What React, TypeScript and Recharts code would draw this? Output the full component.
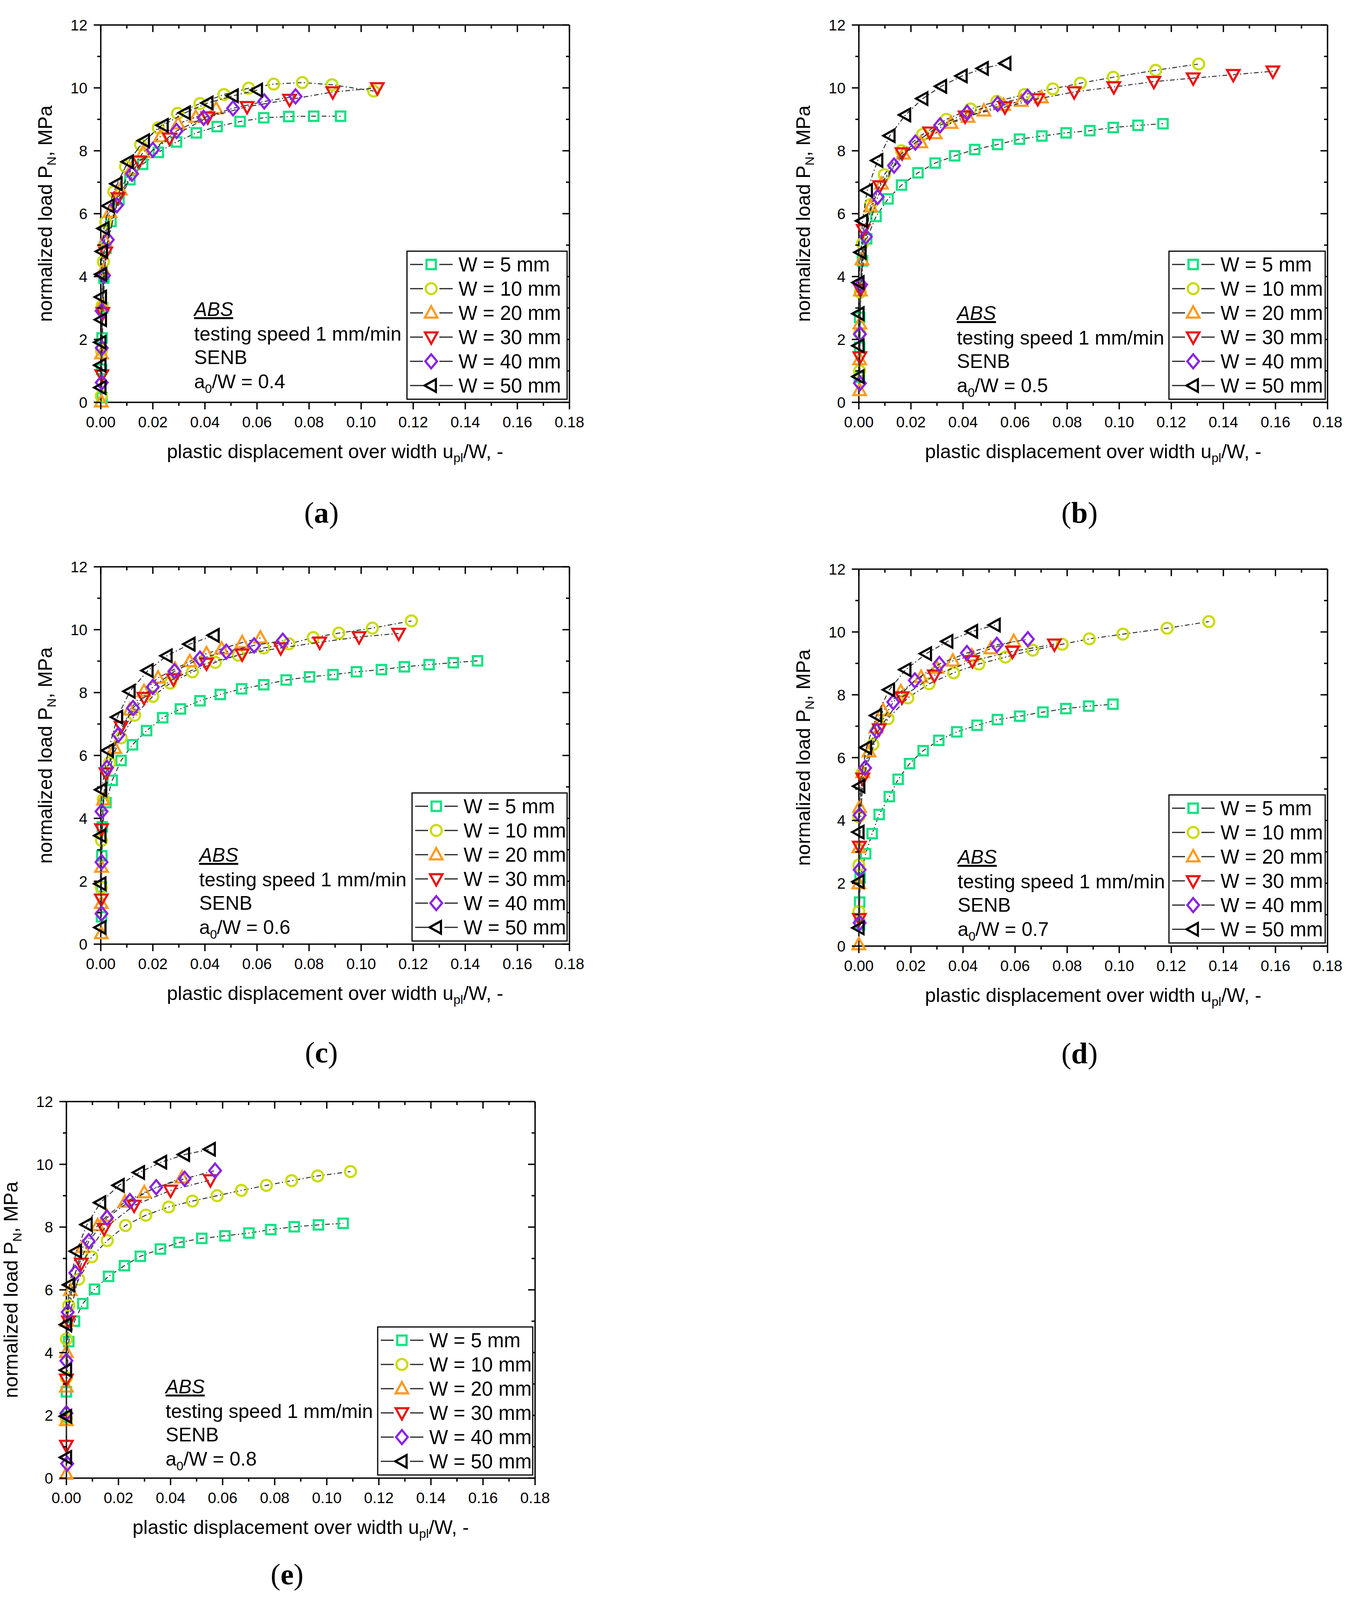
import React from "react";
import { ScatterChart, Scatter, XAxis, YAxis } from "recharts";

type Pt = [number, number];

const X_TICKS = [0, 0.01, 0.02, 0.03, 0.04, 0.05, 0.06, 0.07, 0.08, 0.09, 0.1, 0.11, 0.12, 0.13, 0.14, 0.15, 0.16, 0.17, 0.18];
const Y_TICKS = [0, 1, 2, 3, 4, 5, 6, 7, 8, 9, 10, 11, 12];

const SERIES_NAMES = ["W = 5 mm", "W = 10 mm", "W = 20 mm", "W = 30 mm", "W = 40 mm", "W = 50 mm"];
const COLORS = ["#12e283", "#c9dc00", "#ff9a1e", "#ec1212", "#8a22e8", "#000000"];
const SHAPES = ["square", "circle", "up", "down", "diamond", "left"];
const RATIOS = ["0.4", "0.5", "0.6", "0.7", "0.8"];
const LETTERS = ["a", "b", "c", "d", "e"];

// (a) a0/W = 0.4
const A_W5: Pt[] = [[0.0005, 0.15], [0.0003, 1.05], [0.0005, 2.05], [0.0008, 3.0], [0.0012, 3.95], [0.002, 4.9], [0.0039, 5.75], [0.007, 6.45], [0.0112, 7.08], [0.0161, 7.57], [0.0221, 7.95], [0.0291, 8.28], [0.0367, 8.57], [0.0447, 8.77], [0.0535, 8.93], [0.0626, 9.05], [0.0722, 9.09], [0.0818, 9.1], [0.0921, 9.1]];
const A_W10: Pt[] = [[0.0002, 0.2], [0.0003, 1.65], [0.0005, 3.07], [0.001, 4.47], [0.0019, 5.73], [0.005, 6.7], [0.0095, 7.5], [0.0153, 8.19], [0.0221, 8.73], [0.0295, 9.19], [0.0381, 9.5], [0.0473, 9.79], [0.0568, 9.99], [0.0664, 10.12], [0.0774, 10.17], [0.0888, 10.1], [0.1048, 9.9]];
const A_W20: Pt[] = [[0.0002, 0.02], [0.0003, 1.55], [0.0005, 3.07], [0.001, 4.2], [0.0015, 5.15], [0.0035, 6.05], [0.0075, 6.76], [0.0118, 7.42], [0.0163, 7.95], [0.0229, 8.45], [0.0297, 8.86], [0.0365, 9.07], [0.0443, 9.34]];
const A_W30: Pt[] = [[0.0004, 0.87], [0.0008, 2.85], [0.0019, 4.77], [0.0066, 6.5], [0.0147, 7.67], [0.0264, 8.4], [0.0411, 9.07], [0.0562, 9.4], [0.0725, 9.63], [0.0891, 9.87], [0.1062, 10.0]];
const A_W40: Pt[] = [[0.0004, 0.63], [0.0004, 1.73], [0.0004, 2.9], [0.0012, 4.03], [0.0027, 5.17], [0.0062, 6.27], [0.012, 7.27], [0.02, 8.03], [0.0291, 8.63], [0.0395, 9.05], [0.0508, 9.35], [0.0628, 9.57], [0.0748, 9.73]];
const A_W50: Pt[] = [[0, 0.47], [0, 1.18], [0, 1.91], [0.0002, 2.63], [0.0002, 3.35], [0.0003, 4.07], [0.0006, 4.8], [0.0012, 5.53], [0.0031, 6.25], [0.0062, 6.95], [0.0105, 7.65], [0.0167, 8.32], [0.0239, 8.81], [0.0324, 9.21], [0.0411, 9.52], [0.0508, 9.75], [0.0601, 9.93]];

// (b) a0/W = 0.5
const B_W5: Pt[] = [[0.0002, 0.8], [0.0003, 1.75], [0.0003, 2.7], [0.0014, 4.5], [0.003, 5.2], [0.0066, 5.91], [0.0112, 6.47], [0.0164, 6.91], [0.0227, 7.3], [0.0293, 7.61], [0.0368, 7.84], [0.0445, 8.04], [0.0533, 8.2], [0.0617, 8.37], [0.0703, 8.47], [0.0796, 8.57], [0.0887, 8.64], [0.0977, 8.74], [0.1072, 8.81], [0.1168, 8.86]];
const B_W10: Pt[] = [[0.0003, 1.0], [0.0003, 2.2], [0.0005, 3.5], [0.0014, 5.05], [0.0045, 6.29], [0.0098, 7.24], [0.0164, 8.0], [0.0245, 8.52], [0.0336, 9.0], [0.0429, 9.33], [0.053, 9.57], [0.0636, 9.79], [0.0745, 9.97], [0.0851, 10.15], [0.0977, 10.34], [0.114, 10.56], [0.1305, 10.76]];
const B_W20: Pt[] = [[0.0003, 0.38], [0.0003, 1.36], [0.0004, 2.5], [0.0006, 3.55], [0.0012, 4.54], [0.0045, 6.22], [0.0087, 6.95], [0.0172, 7.9], [0.0238, 8.26], [0.0293, 8.55], [0.0354, 8.88], [0.0419, 9.07], [0.048, 9.27], [0.0556, 9.45], [0.0624, 9.58], [0.0701, 9.69]];
const B_W30: Pt[] = [[0.0004, 1.44], [0.0006, 3.59], [0.0017, 5.49], [0.008, 6.88], [0.0166, 7.93], [0.0272, 8.59], [0.0408, 9.1], [0.0561, 9.39], [0.0687, 9.65], [0.0827, 9.87], [0.0979, 10.03], [0.1133, 10.2], [0.1284, 10.31], [0.1438, 10.42], [0.159, 10.53]];
const B_W40: Pt[] = [[0.0004, 0.61], [0.0004, 2.17], [0.0008, 3.74], [0.0027, 5.27], [0.0072, 6.53], [0.0135, 7.53], [0.0217, 8.26], [0.0312, 8.81], [0.0416, 9.21], [0.0533, 9.49], [0.0648, 9.72]];
const B_W50: Pt[] = [[0, 0.82], [0, 1.8], [0, 2.82], [0, 3.81], [0.0008, 4.77], [0.0014, 5.77], [0.0032, 6.74], [0.0072, 7.69], [0.0119, 8.48], [0.0179, 9.14], [0.0245, 9.66], [0.0317, 10.05], [0.0396, 10.38], [0.0477, 10.62], [0.0564, 10.78]];

// (c) a0/W = 0.6
const C_W5: Pt[] = [[0.0003, 0.87], [0.0003, 1.82], [0.0004, 2.81], [0.0006, 3.73], [0.002, 4.5], [0.0044, 5.21], [0.0078, 5.84], [0.0122, 6.34], [0.0176, 6.79], [0.0238, 7.2], [0.0306, 7.48], [0.0381, 7.74], [0.0459, 7.94], [0.0541, 8.12], [0.0626, 8.25], [0.0712, 8.4], [0.0802, 8.5], [0.0892, 8.57], [0.0982, 8.66], [0.1078, 8.73], [0.1166, 8.82], [0.1261, 8.89], [0.1354, 8.95], [0.1447, 9.01]];
const C_W10: Pt[] = [[0.0002, 1.8], [0.0003, 3.3], [0.001, 4.6], [0.0034, 5.77], [0.0078, 6.56], [0.013, 7.28], [0.02, 7.88], [0.0267, 8.3], [0.0352, 8.66], [0.044, 8.96], [0.0528, 9.19], [0.0626, 9.42], [0.0723, 9.55], [0.0816, 9.75], [0.0914, 9.89], [0.1043, 10.05], [0.1193, 10.28]];
const C_W20: Pt[] = [[0.0002, 0.34], [0.0002, 1.3], [0.0003, 2.45], [0.001, 4.59], [0.0054, 6.23], [0.0112, 7.45], [0.0166, 8.04], [0.022, 8.47], [0.0285, 8.75], [0.0342, 8.99], [0.0406, 9.24], [0.0464, 9.39], [0.0543, 9.59], [0.0613, 9.74]];
const C_W30: Pt[] = [[0.0002, 1.43], [0.0003, 3.66], [0.002, 5.44], [0.0078, 6.92], [0.0166, 7.84], [0.0279, 8.43], [0.0406, 8.93], [0.0543, 9.22], [0.0691, 9.42], [0.0841, 9.6], [0.0992, 9.77], [0.1144, 9.88]];
const C_W40: Pt[] = [[0.0003, 0.97], [0.0003, 2.61], [0.0003, 4.22], [0.0024, 5.61], [0.0068, 6.66], [0.0124, 7.51], [0.02, 8.18], [0.0283, 8.68], [0.0381, 9.08], [0.0482, 9.3], [0.0589, 9.5], [0.0699, 9.65]];
const C_W50: Pt[] = [[0, 0.53], [0, 1.92], [0, 3.45], [0.0003, 4.91], [0.0029, 6.16], [0.0064, 7.22], [0.0112, 8.04], [0.0181, 8.7], [0.0254, 9.17], [0.0342, 9.54], [0.0435, 9.82]];

// (d) a0/W = 0.7
const D_W5: Pt[] = [[0.0003, 0.68], [0.0003, 1.4], [0.0005, 2.17], [0.0026, 2.94], [0.0051, 3.58], [0.0078, 4.19], [0.0117, 4.76], [0.0151, 5.31], [0.0195, 5.81], [0.0247, 6.22], [0.0307, 6.55], [0.0376, 6.82], [0.0454, 7.03], [0.0532, 7.21], [0.0618, 7.32], [0.0707, 7.45], [0.0795, 7.56], [0.0883, 7.64], [0.0976, 7.7]];
const D_W10: Pt[] = [[0, 1.1], [0, 2.58], [0, 4.12], [0.0012, 5.5], [0.0054, 6.42], [0.0112, 7.24], [0.0188, 7.9], [0.027, 8.35], [0.0364, 8.7], [0.0461, 8.98], [0.0563, 9.2], [0.0668, 9.42], [0.0781, 9.61], [0.0885, 9.78], [0.1014, 9.93], [0.1184, 10.12], [0.1344, 10.33]];
const D_W20: Pt[] = [[0, 0.05], [0, 1.99], [0, 3.14], [0.0003, 4.42], [0.0015, 5.53], [0.0039, 6.19], [0.0065, 6.95], [0.0093, 7.5], [0.0161, 8.1], [0.0239, 8.56], [0.03, 8.85], [0.0361, 9.08], [0.0434, 9.24], [0.0507, 9.47], [0.0595, 9.7]];
const D_W30: Pt[] = [[0.0002, 0.87], [0.0002, 3.17], [0.0015, 5.34], [0.0078, 6.91], [0.0166, 7.93], [0.029, 8.62], [0.0436, 9.08], [0.059, 9.38], [0.0751, 9.61]];
const D_W40: Pt[] = [[0.0003, 0.74], [0.0003, 2.43], [0.0003, 4.17], [0.0024, 5.67], [0.0068, 6.85], [0.0132, 7.77], [0.0215, 8.46], [0.0309, 8.98], [0.0415, 9.33], [0.053, 9.59], [0.0649, 9.77]];
const D_W50: Pt[] = [[0, 0.58], [0, 2.05], [0, 3.63], [0.0003, 5.09], [0.0029, 6.32], [0.0068, 7.34], [0.0117, 8.16], [0.018, 8.8], [0.0259, 9.31], [0.0341, 9.7], [0.0436, 10.02], [0.0523, 10.22]];

// (e) a0/W = 0.8
const E_W5: Pt[] = [[0, 1.95], [0, 2.75], [0.0009, 4.35], [0.0031, 5.0], [0.0063, 5.56], [0.0108, 6.02], [0.0162, 6.43], [0.0223, 6.77], [0.0284, 7.07], [0.0361, 7.3], [0.0433, 7.51], [0.052, 7.64], [0.0609, 7.72], [0.0701, 7.81], [0.0785, 7.92], [0.0875, 8.01], [0.0968, 8.07], [0.1063, 8.12]];
const E_W10: Pt[] = [[0, 1.9], [0, 3.2], [0, 4.43], [0.0009, 5.5], [0.0047, 6.34], [0.0097, 7.05], [0.0157, 7.57], [0.0227, 8.05], [0.0305, 8.38], [0.0393, 8.64], [0.0484, 8.83], [0.0579, 9.0], [0.0672, 9.17], [0.0768, 9.33], [0.0865, 9.48], [0.0965, 9.63], [0.1091, 9.77]];
const E_W20: Pt[] = [[0, 0.13], [0, 1.84], [0, 2.91], [0, 4.01], [0.0003, 5.0], [0.0015, 5.98], [0.0063, 7.36], [0.012, 8.05], [0.0155, 8.35], [0.0225, 8.8], [0.0299, 9.1], [0.0444, 9.57]];
const E_W30: Pt[] = [[0, 1.04], [0, 3.15], [0.0008, 5.0], [0.0057, 6.84], [0.0145, 7.95], [0.026, 8.69], [0.04, 9.17], [0.0553, 9.5]];
const E_W40: Pt[] = [[0.0003, 0.46], [0, 2.07], [0, 3.74], [0.0005, 5.29], [0.0034, 6.54], [0.0086, 7.55], [0.0156, 8.3], [0.0244, 8.83], [0.0345, 9.27], [0.0454, 9.54], [0.0571, 9.8]];
const E_W50: Pt[] = [[0, 0.66], [0, 1.97], [0, 3.44], [0, 4.89], [0.0012, 6.16], [0.0038, 7.23], [0.0079, 8.08], [0.0131, 8.78], [0.0202, 9.33], [0.028, 9.74], [0.0365, 10.07], [0.0453, 10.31], [0.0552, 10.48]];

const PANEL_DATA: Pt[][][] = [
  [A_W5, A_W10, A_W20, A_W30, A_W40, A_W50],
  [B_W5, B_W10, B_W20, B_W30, B_W40, B_W50],
  [C_W5, C_W10, C_W20, C_W30, C_W40, C_W50],
  [D_W5, D_W10, D_W20, D_W30, D_W40, D_W50],
  [E_W5, E_W10, E_W20, E_W30, E_W40, E_W50],
];

// plot boxes in page pixels
type Geo = { l: number; t: number; b: number; legW: number; annX: number; annDy: number; capDy: number };
const GEO: Geo[] = [
  { l: 258, t: 64, b: 1030, legW: 410, annX: 239, annDy: -10, capDy: 308 },
  { l: 2199, t: 64, b: 1030, legW: 400, annX: 251, annDy: 0, capDy: 308 },
  { l: 258, t: 1451, b: 2417, legW: 397, annX: 252, annDy: 0, capDy: 303 },
  { l: 2199, t: 1457, b: 2422, legW: 400, annX: 253, annDy: 0, capDy: 300 },
  { l: 170, t: 2820, b: 3784, legW: 397, annX: 254, annDy: -6, capDy: 272 },
];

const PW = 1200;
const YW = 180;
const XH = 100;
const TH = 10;
const RW = 10;
const MT = 10;
const MR = 70;
const FONT = "'Liberation Sans', Arial, sans-serif";
const AX = 3.5;

function Marker({ cx, cy, shape, color }: { cx: number; cy: number; shape: string; color: string }) {
  const p = { fill: "none", stroke: color, strokeWidth: 5.5, strokeLinejoin: "miter" as const };
  if (cx == null || cy == null) return null;
  switch (shape) {
    case "square":
      return <rect x={cx - 12} y={cy - 12} width={24} height={24} {...p} />;
    case "circle":
      return <circle cx={cx} cy={cy} r={14} {...p} />;
    case "up":
      return <polygon points={`${cx},${cy - 17} ${cx + 16},${cy + 12} ${cx - 16},${cy + 12}`} {...p} />;
    case "down":
      return <polygon points={`${cx - 16},${cy - 12} ${cx + 16},${cy - 12} ${cx},${cy + 17}`} {...p} />;
    case "diamond":
      return <polygon points={`${cx},${cy - 18} ${cx + 15},${cy} ${cx},${cy + 18} ${cx - 15},${cy}`} {...p} />;
    default:
      return <polygon points={`${cx - 17},${cy} ${cx + 12},${cy - 16} ${cx + 12},${cy + 16}`} {...p} />;
  }
}

const isMajorX = (v: number) => Math.round(v * 100) % 2 === 0;
const isMajorY = (v: number) => Math.round(v) % 2 === 0;

function BottomTick(props: any) {
  const { x, y, payload } = props;
  const major = isMajorX(payload.value);
  return (
    <g>
      <line x1={x} x2={x} y1={y} y2={y + (major ? 18 : 9)} stroke="#000" strokeWidth={AX} />
      {major && (
        <text x={x} y={y + 64} textAnchor="middle" fontSize={39} fontFamily={FONT} fill="#000">
          {payload.value.toFixed(2)}
        </text>
      )}
    </g>
  );
}

function TopTick(props: any) {
  const { x, y, payload } = props;
  const major = isMajorX(payload.value);
  return <line x1={x} x2={x} y1={y} y2={y + (major ? 18 : 9)} stroke="#000" strokeWidth={AX} />;
}

function LeftTick(props: any) {
  const { x, y, payload } = props;
  const major = isMajorY(payload.value);
  return (
    <g>
      <line x1={x} x2={x - (major ? 18 : 9)} y1={y} y2={y} stroke="#000" strokeWidth={AX} />
      {major && (
        <text x={x - 34} y={y + 14} textAnchor="end" fontSize={39} fontFamily={FONT} fill="#000">
          {payload.value}
        </text>
      )}
    </g>
  );
}

function RightTick(props: any) {
  const { x, y, payload } = props;
  const major = isMajorY(payload.value);
  return <line x1={x} x2={x - (major ? 18 : 9)} y1={y} y2={y} stroke="#000" strokeWidth={AX} />;
}

function Panel({ geo, series }: { geo: Geo; series: Pt[][] }) {
  const h = geo.b - geo.t;
  const axisLine = { stroke: "#000", strokeWidth: AX };
  return (
    <div style={{ position: "absolute", left: geo.l - YW, top: geo.t - MT - TH }}>
      <ScatterChart
        width={YW + PW + RW + MR}
        height={MT + TH + h + XH}
        margin={{ top: MT, right: MR, bottom: 0, left: 0 }}
      >
        <XAxis
          xAxisId="b"
          type="number"
          dataKey="x"
          domain={[0, 0.18]}
          ticks={X_TICKS}
          interval={0}
          height={XH}
          tickSize={0}
          tickMargin={0}
          tickLine={false}
          axisLine={axisLine}
          tick={(p: any) => <BottomTick {...p} />}
        />
        <XAxis
          xAxisId="t"
          orientation="top"
          type="number"
          dataKey="x"
          domain={[0, 0.18]}
          allowDataOverflow
          ticks={X_TICKS}
          interval={0}
          height={TH}
          tickSize={0}
          tickMargin={0}
          tickLine={false}
          axisLine={axisLine}
          tick={(p: any) => <TopTick {...p} />}
        />
        <YAxis
          yAxisId="l"
          type="number"
          dataKey="y"
          domain={[0, 12]}
          ticks={Y_TICKS}
          interval={0}
          width={YW}
          tickSize={0}
          tickMargin={0}
          tickLine={false}
          axisLine={axisLine}
          tick={(p: any) => <LeftTick {...p} />}
        />
        <YAxis
          yAxisId="r"
          orientation="right"
          type="number"
          dataKey="y"
          domain={[0, 12]}
          allowDataOverflow
          ticks={Y_TICKS}
          interval={0}
          width={RW}
          tickSize={0}
          tickMargin={0}
          tickLine={false}
          axisLine={axisLine}
          tick={(p: any) => <RightTick {...p} />}
        />
        {series.map((pts, i) => (
          <Scatter
            key={SERIES_NAMES[i]}
            name={SERIES_NAMES[i]}
            xAxisId="b"
            yAxisId="l"
            data={pts.map(([x, y]) => ({ x, y }))}
            line={{ stroke: "#333", strokeWidth: 2.5, strokeDasharray: "12 6 3 6" }}
            lineType="joint"
            shape={(p: any) => <Marker cx={p.cx} cy={p.cy} shape={SHAPES[i]} color={COLORS[i]} />}
            isAnimationActive={false}
          />
        ))}
      </ScatterChart>
    </div>
  );
}

function PanelText({ geo, idx }: { geo: Geo; idx: number }) {
  const r = geo.l + PW;
  const midY = (geo.t + geo.b) / 2;
  const legTop = geo.b - 8 - 379;
  const legLeft = r - 6 - geo.legW;
  const ann = [-228, -165, -105, -43].map((d) => geo.b + d + geo.annDy + 17);
  const ax = geo.l + geo.annX;
  return (
    <g fontFamily={FONT} fill="#000">
      <text transform={`translate(${geo.l - 125},${midY}) rotate(-90)`} textAnchor="middle" fontSize={50}>
        normalized load P<tspan fontSize={32} dy={10}>N</tspan>
        <tspan dy={-10}>, MPa</tspan>
      </text>
      <text x={geo.l + PW / 2} y={geo.b + 143} textAnchor="middle" fontSize={50}>
        plastic displacement over width u<tspan fontSize={32} dy={10}>pl</tspan>
        <tspan dy={-10}>/W, -</tspan>
      </text>
      <text x={ax} y={ann[0]} fontSize={50} fontStyle="italic" textDecoration="underline">
        ABS
      </text>
      <text x={ax} y={ann[1]} fontSize={50}>
        testing speed 1 mm/min
      </text>
      <text x={ax} y={ann[2]} fontSize={50}>
        SENB
      </text>
      <text x={ax} y={ann[3]} fontSize={50}>
        a<tspan fontSize={32} dy={12}>0</tspan>
        <tspan dy={-12}>/W = {RATIOS[idx]}</tspan>
      </text>
      <rect x={legLeft} y={legTop} width={geo.legW} height={379} fill="#fff" stroke="#000" strokeWidth={3} />
      {SERIES_NAMES.map((name, i) => {
        const cy = legTop + 34 + i * 62;
        return (
          <g key={name}>
            <line x1={legLeft + 8} x2={legLeft + 117} y1={cy} y2={cy} stroke="#222" strokeWidth={3} />
            <rect x={legLeft + 41} y={cy - 20} width={42} height={40} fill="#fff" />
            <Marker cx={legLeft + 62} cy={cy} shape={SHAPES[i]} color={COLORS[i]} />
            <text x={legLeft + 132} y={cy + 18} fontSize={51}>
              {name}
            </text>
          </g>
        );
      })}
      <text
        x={geo.l + 565}
        y={geo.b + geo.capDy}
        textAnchor="middle"
        fontSize={76}
        fontFamily="'Liberation Serif', 'Times New Roman', serif"
      >
        (<tspan fontWeight="bold">{LETTERS[idx]}</tspan>)
      </text>
    </g>
  );
}

export default function App() {
  return (
    <div style={{ position: "absolute", left: 0, top: 0, width: 3477, height: 4107, background: "#fff" }}>
      {GEO.map((g, i) => (
        <Panel key={LETTERS[i]} geo={g} series={PANEL_DATA[i]} />
      ))}
      <svg
        width={3477}
        height={4107}
        style={{ position: "absolute", left: 0, top: 0, pointerEvents: "none" }}
      >
        {GEO.map((g, i) => (
          <PanelText key={LETTERS[i]} geo={g} idx={i} />
        ))}
      </svg>
    </div>
  );
}
